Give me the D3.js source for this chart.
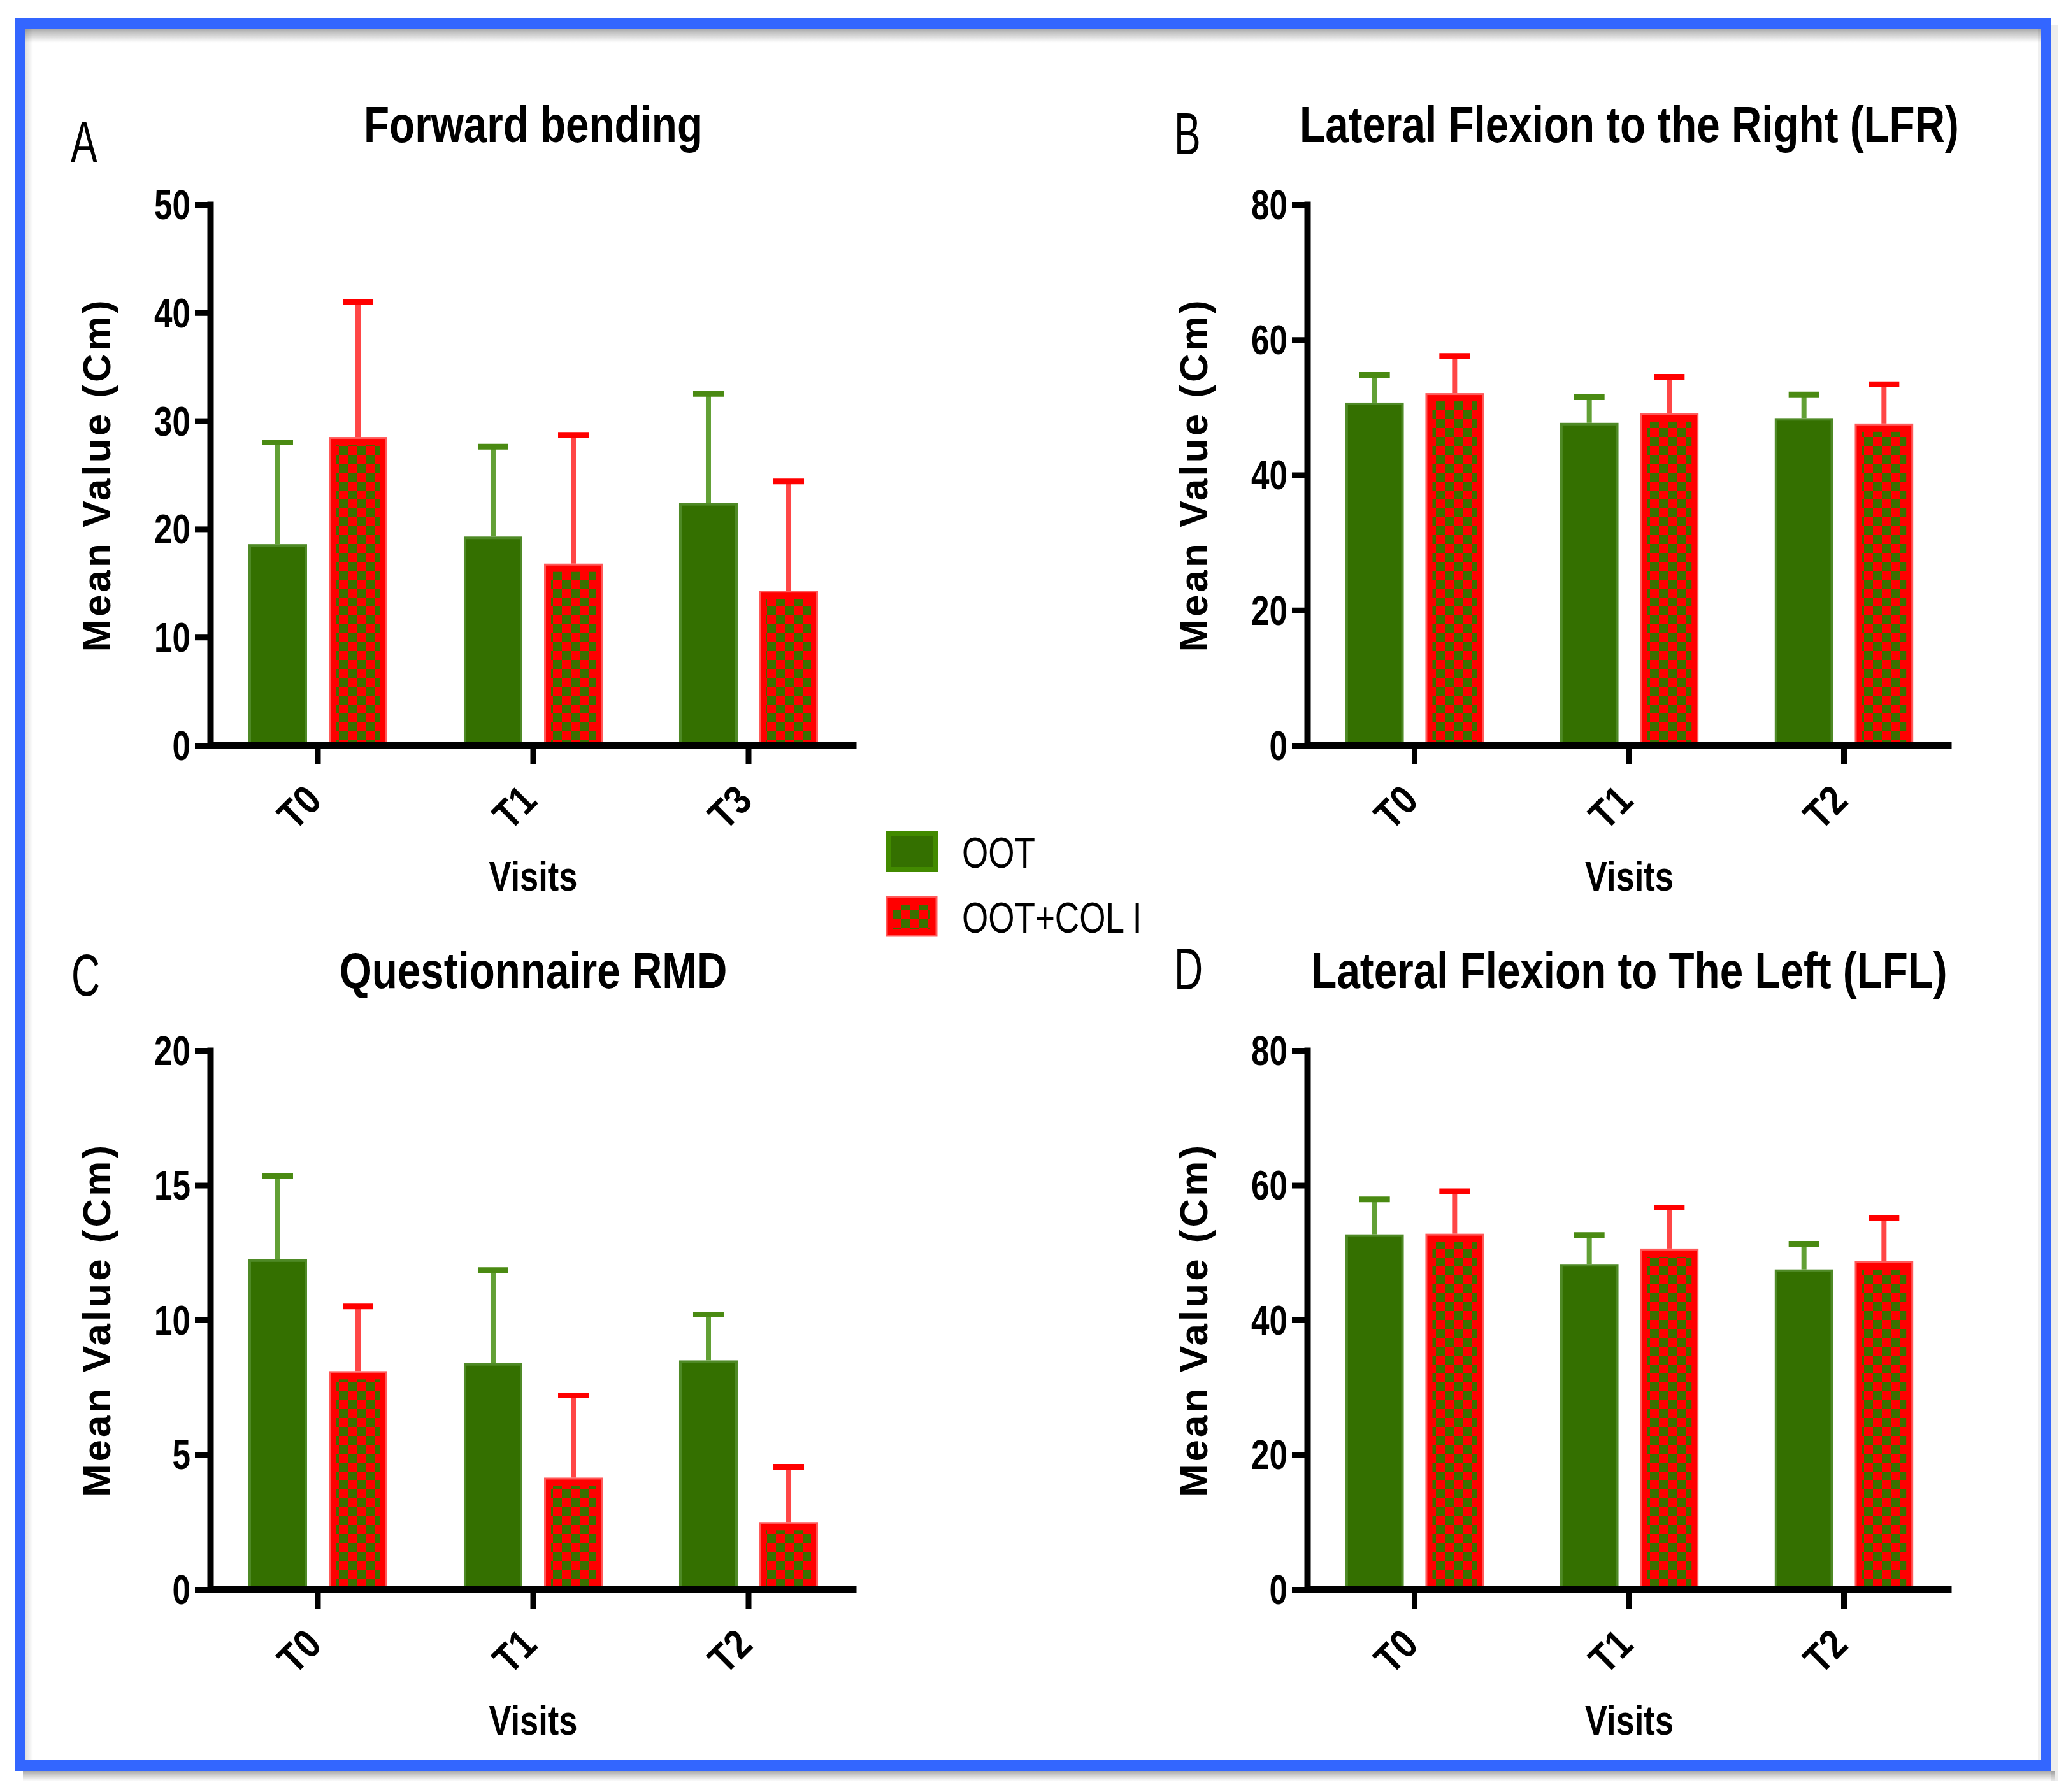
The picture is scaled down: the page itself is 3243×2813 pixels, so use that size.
<!DOCTYPE html>
<html><head><meta charset="utf-8">
<script src="https://cdn.jsdelivr.net/npm/d3@7"></script>
<style>html,body{margin:0;padding:0;background:#fff;} svg{display:block}</style>
</head><body>
<svg id="chart" width="3243" height="2813"></svg>
<script>
// ---------------- DATA ----------------
const seriesNames = ["OOT", "OOT+COL I"];
const visitsA = ["T0", "T1", "T3"];
const visitsBCD = ["T0", "T1", "T2"];

const forwardOOT = [18.6, 19.3, 22.4];
const forwardOOTsd = [9.4, 8.3, 10.1];
const forwardCOL = [28.5, 16.8, 14.3];
const forwardCOLsd = [12.5, 11.9, 10.1];

const lfrOOT = [50.7, 47.7, 48.4];
const lfrOOTsd = [4.1, 3.8, 3.5];
const lfrCOL = [52.1, 49.1, 47.6];
const lfrCOLsd = [5.5, 5.4, 5.8];

const rmdOOT = [12.25, 8.4, 8.5];
const rmdOOTsd = [3.1, 3.45, 1.7];
const rmdCOL = [8.1, 4.15, 2.5];
const rmdCOLsd = [2.4, 3.05, 2.05];

const lflOOT = [52.7, 48.3, 47.5];
const lflOOTsd = [5.2, 4.3, 3.8];
const lflCOL = [52.8, 50.6, 48.7];
const lflCOLsd = [6.3, 6.1, 6.4];

const ticksA = [0, 10, 20, 30, 40, 50];
const ticksB = [0, 20, 40, 60, 80];
const ticksC = [0, 5, 10, 15, 20];
const ticksD = [0, 20, 40, 60, 80];

const titles = ["Forward bending", "Lateral Flexion to the Right (LFR)", "Questionnaire RMD", "Lateral Flexion to The Left (LFL)"];
const letters = ["A", "B", "C", "D"];
const yLabel = "Mean Value (Cm)";
const xLabel = "Visits";

// ---------------- STYLE ----------------
const FONT = "'Liberation Sans', Arial, Helvetica, sans-serif";
const GREEN = "#347000", GREEN_EDGE = "#4f8a26", GREEN_ERR = "#62a035", GREEN_CAP = "#4a8a12";
const RED = "#ff0000", RED_EDGE = "#ff5a5a", RED_ERR = "#ff4646", RED_CAP = "#ff0000";

const svg = d3.select("#chart");
const defs = svg.append("defs");
const pat = defs.append("pattern").attr("id", "checker").attr("patternUnits", "userSpaceOnUse")
  .attr("width", 28).attr("height", 28);
pat.append("rect").attr("width", 28).attr("height", 28).attr("fill", RED);
pat.append("rect").attr("x", 0).attr("y", 0).attr("width", 14).attr("height", 14).attr("fill", "#3a7000");
pat.append("rect").attr("x", 14).attr("y", 14).attr("width", 14).attr("height", 14).attr("fill", "#3a7000");

const gTop = defs.append("linearGradient").attr("id", "shTop").attr("x1", 0).attr("y1", 0).attr("x2", 0).attr("y2", 1);
gTop.append("stop").attr("offset", "0").attr("stop-color", "#000").attr("stop-opacity", 0.33);
gTop.append("stop").attr("offset", "1").attr("stop-color", "#000").attr("stop-opacity", 0);
const gLeft = defs.append("linearGradient").attr("id", "shLeft").attr("x1", 0).attr("y1", 0).attr("x2", 1).attr("y2", 0);
gLeft.append("stop").attr("offset", "0").attr("stop-color", "#000").attr("stop-opacity", 0.12);
gLeft.append("stop").attr("offset", "1").attr("stop-color", "#000").attr("stop-opacity", 0);

svg.append("rect").attr("width", 3243).attr("height", 2813).attr("fill", "#fff");
svg.append("rect").attr("x", 40).attr("y", 45).attr("width", 3166).attr("height", 22).attr("fill", "url(#shTop)");
svg.append("rect").attr("x", 40).attr("y", 45).attr("width", 12).attr("height", 2720).attr("fill", "url(#shLeft)");
svg.append("rect").attr("x", 3199).attr("y", 45).attr("width", 6).attr("height", 2720).attr("fill", "#000").attr("opacity", 0.06);
svg.append("rect").attr("x", 36).attr("y", 2780).attr("width", 3190).attr("height", 16).attr("fill", "url(#shTop)");
svg.append("rect").attr("x", 3220).attr("y", 40).attr("width", 10).attr("height", 2756).attr("fill", "#000").attr("opacity", 0.07);
svg.append("rect").attr("x", 31.5).attr("y", 36.5).attr("width", 3180).attr("height", 2735)
  .attr("fill", "none").attr("stroke", "#3366ff").attr("stroke-width", 17);

// condensed text helper (horizontal squeeze of Liberation Sans)
function nText(parent, x, y, txt, size, weight, sx, anchor) {
  return parent.append("text").attr("transform", `translate(${x},${y}) scale(${sx},1)`)
    .attr("text-anchor", anchor || "start").attr("font-family", FONT)
    .attr("font-weight", weight).attr("font-size", size).attr("fill", "#000").text(txt);
}

// ---------------- PANELS ----------------
const panels = [
  { cats: visitsA, means: [forwardOOT, forwardCOL], sds: [forwardOOTsd, forwardCOLsd], ticks: ticksA,
    title: titles[0], letter: letters[0], x0: 330, x1: 1344, yt: 321, yb: 1170, lx: 111, ly: 255 },
  { cats: visitsBCD, means: [lfrOOT, lfrCOL], sds: [lfrOOTsd, lfrCOLsd], ticks: ticksB,
    title: titles[1], letter: letters[1], x0: 2052, x1: 3063, yt: 321, yb: 1170, lx: 1843, ly: 242 },
  { cats: visitsBCD, means: [rmdOOT, rmdCOL], sds: [rmdOOTsd, rmdCOLsd], ticks: ticksC,
    title: titles[2], letter: letters[2], x0: 330, x1: 1344, yt: 1649, yb: 2495, lx: 112, ly: 1563 },
  { cats: visitsBCD, means: [lflOOT, lflCOL], sds: [lflOOTsd, lflCOLsd], ticks: ticksD,
    title: titles[3], letter: letters[3], x0: 2052, x1: 3063, yt: 1649, yb: 2495, lx: 1843, ly: 1553 }
];

function drawPanel(p) {
  const g = svg.append("g");
  const x = d3.scaleBand().domain(p.cats).range([p.x0, p.x1]);
  const xs = d3.scaleBand().domain(seriesNames).range([0, x.bandwidth()]).paddingInner(0.27).paddingOuter(0.476);
  const y = d3.scaleLinear().domain([0, d3.max(p.ticks)]).range([p.yb, p.yt]);
  const rows = p.cats.flatMap((c, i) => seriesNames.map((s, j) => ({ c, s, j, mean: p.means[j][i], sd: p.sds[j][i] })));

  const bars = g.selectAll("g.bar").data(rows).join("g").attr("class", "bar");
  bars.each(function (d) {
    const bx = x(d.c) + xs(d.s), bw = xs.bandwidth();
    const top = y(d.mean), h = y(0) - y(d.mean);
    const sel = d3.select(this);
    if (d.j === 0) {
      sel.append("rect").attr("x", bx + 2).attr("y", top + 2).attr("width", bw - 4).attr("height", h - 2)
        .attr("fill", GREEN).attr("stroke", GREEN_EDGE).attr("stroke-width", 4);
    } else {
      sel.append("rect").attr("x", bx + 1.5).attr("y", top + 1.5).attr("width", bw - 3).attr("height", h - 1.5)
        .attr("fill", RED).attr("stroke", RED_EDGE).attr("stroke-width", 3);
      if (h > 14) sel.append("rect").attr("x", bx + 11).attr("y", top + 13).attr("width", bw - 22).attr("height", h - 13)
        .attr("fill", "url(#checker)");
    }
    const cx = bx + bw / 2, ey = y(d.mean + d.sd);
    sel.append("line").attr("x1", cx).attr("x2", cx).attr("y1", top).attr("y2", ey)
      .attr("stroke", d.j === 0 ? GREEN_ERR : RED_ERR).attr("stroke-width", 8);
    sel.append("line").attr("x1", cx - 24).attr("x2", cx + 24).attr("y1", ey).attr("y2", ey)
      .attr("stroke", d.j === 0 ? GREEN_CAP : RED_CAP).attr("stroke-width", 9);
  });

  // y axis
  const ya = g.append("g").attr("transform", `translate(${p.x0},0)`)
    .call(d3.axisLeft(y).tickValues(p.ticks).tickSize(24).tickSizeOuter(0).tickPadding(8).tickFormat(d3.format("d")));
  ya.attr("font-size", null).attr("font-family", null);
  ya.select(".domain").attr("stroke", "#000").attr("stroke-width", 10).attr("stroke-linecap", "square");
  ya.selectAll(".tick line").attr("stroke", "#000").attr("stroke-width", 9);
  ya.selectAll(".tick text").attr("fill", "#000").attr("x", 0).attr("dy", "0.35em")
    .attr("transform", "translate(-31,0) scale(0.8,1)")
    .attr("font-family", FONT).attr("font-weight", "bold").attr("font-size", 64);

  // x axis
  const xa = g.append("g").attr("transform", `translate(0,${p.yb})`)
    .call(d3.axisBottom(x).tickSize(30).tickSizeOuter(0));
  xa.attr("font-size", null).attr("font-family", null);
  xa.select(".domain").attr("stroke", "#000").attr("stroke-width", 11);
  xa.selectAll(".tick line").attr("stroke", "#000").attr("stroke-width", 9);
  xa.selectAll(".tick text").attr("fill", "#000").attr("x", 0).attr("y", 0).attr("dy", 0)
    .attr("transform", "translate(9,90) rotate(-45) scale(0.86,1)").attr("text-anchor", "end")
    .attr("font-family", FONT).attr("font-weight", "bold").attr("font-size", 64);

  const mid = (p.x0 + p.x1) / 2;
  nText(g, mid, p.yb + 228, xLabel, 64, "bold", 0.82, "middle");
  nText(g, mid, p.yt - 98, p.title, 80, "bold", 0.82, "middle");
  g.append("text").attr("transform", `translate(${p.x0 - 157},${(p.yt + p.yb) / 2}) rotate(-90)`)
    .attr("text-anchor", "middle").attr("font-family", FONT).attr("font-weight", "bold")
    .attr("font-size", 62).attr("letter-spacing", 4).text(yLabel);
  nText(g, p.lx, p.ly, p.letter, 92, "normal", 0.68, "start");
}
panels.forEach(drawPanel);

// ---------------- LEGEND ----------------
const leg = svg.append("g");
const legRows = seriesNames.map((s, j) => ({ s, j }));
leg.selectAll("g").data(legRows).join("g").each(function (d) {
  const sel = d3.select(this);
  const ty = d.j === 0 ? 1304 : 1406;
  if (d.j === 0) {
    sel.append("rect").attr("x", 1394).attr("y", ty + 4).attr("width", 74).attr("height", 57)
      .attr("fill", GREEN).attr("stroke", "#428a00").attr("stroke-width", 8);
  } else {
    sel.append("rect").attr("x", 1392).attr("y", ty + 2).attr("width", 78).attr("height", 61)
      .attr("fill", RED).attr("stroke", RED_EDGE).attr("stroke-width", 3);
    sel.append("rect").attr("x", 1402).attr("y", ty + 14).attr("width", 58).attr("height", 38)
      .attr("fill", "url(#checker)");
  }
  nText(sel, 1510, ty + 58, d.s, 68, "normal", 0.78, "start");
});
</script>
</body></html>
